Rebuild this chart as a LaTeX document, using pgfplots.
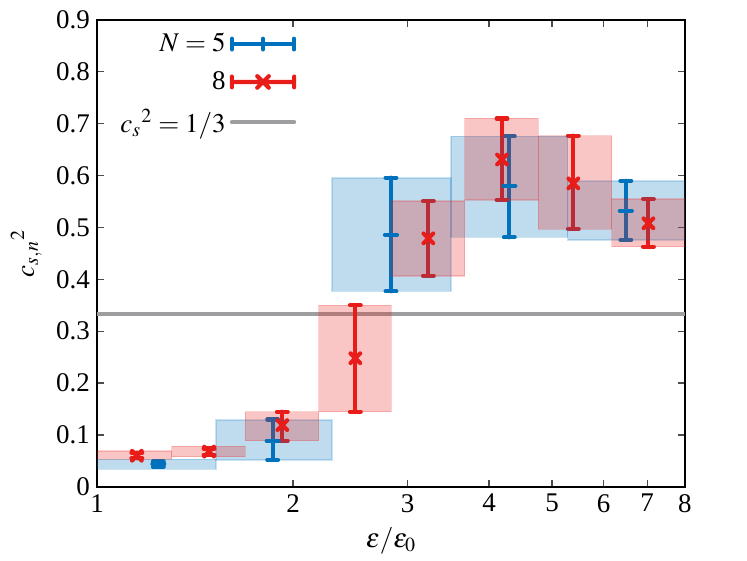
\documentclass[border=0pt]{standalone}
\usepackage{mathptmx}
\usepackage{fontspec}
\setmainfont{Liberation Serif}
\usepackage{pgfplots}
\usepackage{pgfplotstable}
\pgfplotsset{compat=1.18}
\definecolor{cA}{RGB}{0,114,189}
\definecolor{cB}{RGB}{232,28,24}
\definecolor{cG}{RGB}{158,158,160}

% N=5 : x, y, error plus, error minus
\pgfplotstableread{
x     y     ep    em
1.242 0.044 0.005 0.005
1.861 0.089 0.041 0.037
2.828 0.486 0.110 0.109
4.298 0.580 0.096 0.099
6.490 0.532 0.058 0.056
}\nfive
% N=8
\pgfplotstableread{
x     y     ep    em
1.151 0.060 0.006 0.005
1.486 0.068 0.006 0.006
1.926 0.119 0.026 0.030
2.493 0.248 0.102 0.103
3.228 0.479 0.072 0.072
4.188 0.631 0.079 0.078
5.390 0.585 0.092 0.088
7.030 0.508 0.047 0.045
}\neight

\begin{document}
\begin{tikzpicture}
\useasboundingbox (-46.8pt,-35.7pt) rectangle (313.3pt,234.7pt);
\begin{axis}[at={(0,0)},anchor=south west,scale only axis,
 width=283.4pt,height=225.1pt,
 xmode=log,xmin=1,xmax=8,ymin=0,ymax=0.9,
 xtick={1,2,3,4,5,6,7,8},xticklabels={1,2,3,4,5,6,7,8},minor xtick={},
 ytick={0,0.1,0.2,0.3,0.4,0.5,0.6,0.7,0.8,0.9},
 yticklabels={0,0.1,0.2,0.3,0.4,0.5,0.6,0.7,0.8,0.9},
 tick align=inside,major tick length=3.4pt,
 axis line style={line width=0.7pt},
 tick style={line width=0.6pt,black!70},
 tick label style={font=\fontsize{13}{15}\selectfont},
 label style={font=\fontsize{13}{15}\selectfont},
 xlabel={$\varepsilon/\varepsilon_0$},ylabel={$c_{s,n}{}^2$},
 xlabel style={yshift=-0.5pt},
 legend plot pos=right,legend cell align=right,
 legend style={draw=none,fill=none,at={(axis description cs:0.35,0.99)},anchor=north east,
   row sep=4pt,font=\fontsize{13}{15}\selectfont},
]
\addlegendimage{legend image code/.code={
  \draw[cA,line width=2pt,line cap=round] (3pt,0pt)--(33pt,0pt)
   (3pt,-2.6pt)--(3pt,2.6pt) (18pt,-2.6pt)--(18pt,2.6pt) (33pt,-2.6pt)--(33pt,2.6pt);}}
\addlegendentry{$N=5$}
\addlegendimage{legend image code/.code={
  \draw[cB,line width=2pt,line cap=round] (3pt,0pt)--(33pt,0pt)
   (3pt,-2.6pt)--(3pt,2.6pt) (33pt,-2.6pt)--(33pt,2.6pt)
   (15.2pt,-2.8pt)--(20.8pt,2.8pt) (15.2pt,2.8pt)--(20.8pt,-2.8pt);}}
\addlegendentry{8}
\addlegendimage{legend image code/.code={
  \draw[cG,line width=2pt,line cap=round] (3pt,0pt)--(33pt,0pt);}}
\addlegendentry{$c_s{}^2=1/3$}

\addplot[forget plot,cG,line width=2pt] coordinates {(0.9,0.3333) (9,0.3333)};

\addplot[forget plot,cA,line width=2pt,mark=-,mark size=2.9pt,only marks,
  mark options={line cap=round},
  error bars/.cd,y dir=both,y explicit,
  error bar style={line width=2pt,line cap=round},
  error mark options={rotate=90,mark size=2.6pt,line width=2pt,line cap=round}]
  table[x=x,y=y,y error plus=ep,y error minus=em]{\nfive};
\addplot[forget plot,cB,line width=2pt,mark=x,mark size=3.3pt,only marks,
  mark options={line cap=round},
  error bars/.cd,y dir=both,y explicit,
  error bar style={line width=2pt,line cap=round},
  error mark options={rotate=90,mark size=2.6pt,line width=2pt,line cap=round}]
  table[x=x,y=y,y error plus=ep,y error minus=em]{\neight};

% N=5 bands
\pgfplotsset{bandA/.style={forget plot,fill=cA,fill opacity=0.25,draw=cA,draw opacity=0.2,line width=0.6pt}}
\addplot[bandA] coordinates {(0.9,0.034) (1.523,0.034) (1.523,0.053) (0.9,0.053)} -- cycle;
\addplot[bandA] coordinates {(1.523,0.052) (2.296,0.052) (2.296,0.129) (1.523,0.129)} -- cycle;
\addplot[bandA] coordinates {(2.296,0.377) (3.497,0.377) (3.497,0.5955) (2.296,0.5955)} -- cycle;
\addplot[bandA] coordinates {(3.497,0.481) (5.284,0.481) (5.284,0.676) (3.497,0.676)} -- cycle;
\addplot[bandA] coordinates {(5.284,0.476) (9,0.476) (9,0.5897) (5.284,0.5897)} -- cycle;
% N=8 bands
\pgfplotsset{bandB/.style={forget plot,fill=cB,fill opacity=0.25,draw=cB,draw opacity=0.2,line width=0.6pt}}
\addplot[bandB] coordinates {(0.9,0.053) (1.302,0.053) (1.302,0.069) (0.9,0.069)} -- cycle;
\addplot[bandB] coordinates {(1.302,0.058) (1.69,0.058) (1.69,0.078) (1.302,0.078)} -- cycle;
\addplot[bandB] coordinates {(1.69,0.089) (2.19,0.089) (2.19,0.145) (1.69,0.145)} -- cycle;
\addplot[bandB] coordinates {(2.19,0.145) (2.832,0.145) (2.832,0.350) (2.19,0.350)} -- cycle;
\addplot[bandB] coordinates {(2.832,0.4066) (3.671,0.4066) (3.671,0.551) (2.832,0.551)} -- cycle;
\addplot[bandB] coordinates {(3.671,0.553) (4.762,0.553) (4.762,0.7105) (3.671,0.7105)} -- cycle;
\addplot[bandB] coordinates {(4.762,0.4966) (6.17,0.4966) (6.17,0.677) (4.762,0.677)} -- cycle;
\addplot[bandB] coordinates {(6.17,0.463) (9,0.463) (9,0.555) (6.17,0.555)} -- cycle;
\end{axis}
\end{tikzpicture}
\end{document}
